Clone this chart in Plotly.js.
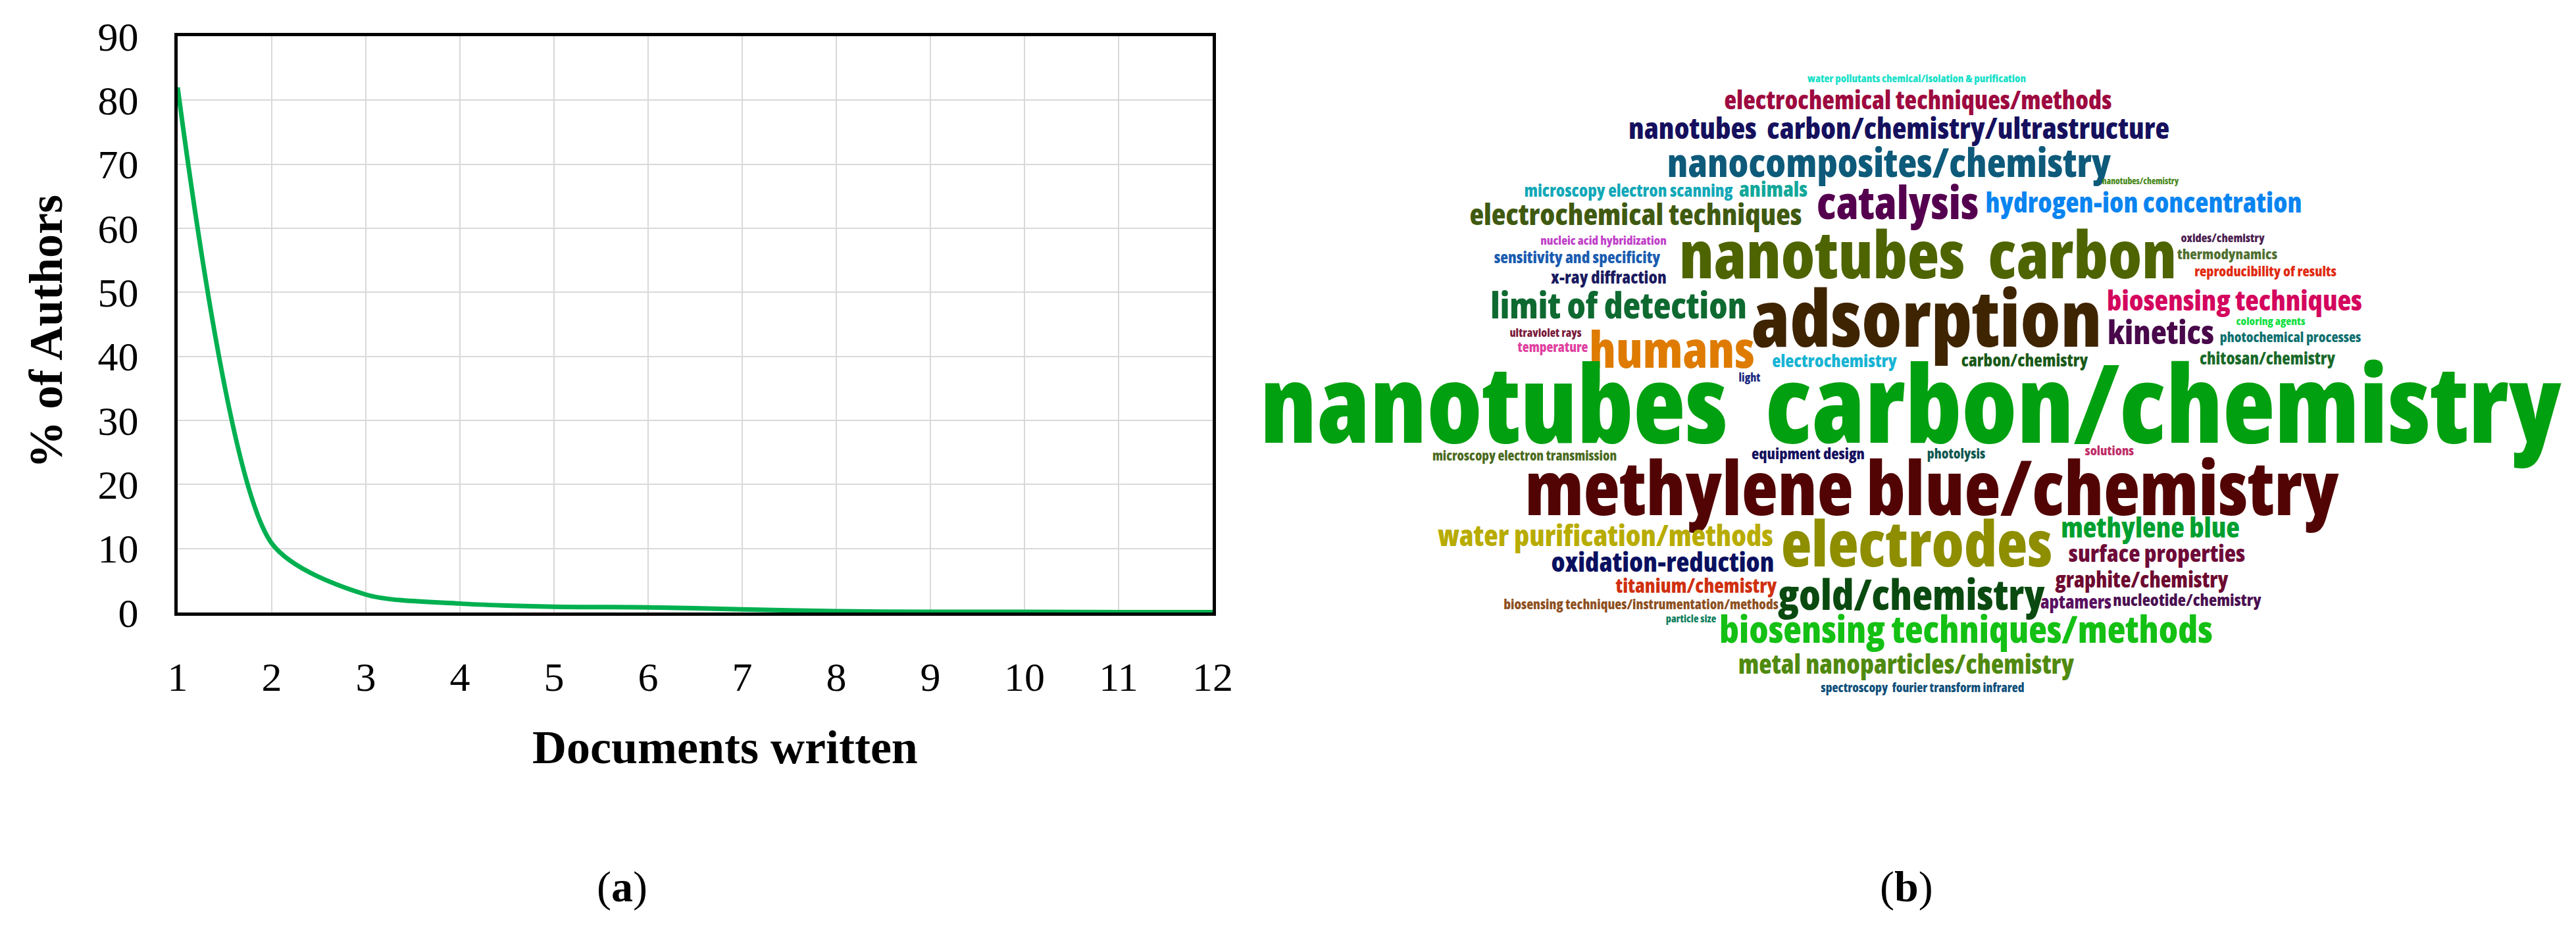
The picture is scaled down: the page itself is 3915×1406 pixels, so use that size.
<!DOCTYPE html>
<html>
<head>
<meta charset="utf-8">
<script src="https://cdn.plot.ly/plotly-3.0.1.min.js"></script>
<style>
html,body{margin:0;padding:0;background:#fff;}
#chart{width:3915px;height:1406px;}
#chart .textpoint text{font-stretch:75% !important;}
</style>
</head>
<body>
<div id="chart"></div>
<script>
// ---- (a) authors productivity ----
const docsWritten = [1, 2, 3, 4, 5, 6, 7, 8, 9, 10, 11, 12];
const pctAuthors  = [82, 10.8, 2.8, 1.4, 0.9, 0.8, 0.5, 0.2, 0.1, 0.1, 0.05, 0.05];
const xTickLabels = ['1','2','3','4','5','6','7','8','9','10','11','12'];
const yTickVals   = [0, 10, 20, 30, 40, 50, 60, 70, 80, 90];

// ---- (b) keyword cloud ----
const words = [
  'water pollutants chemical/isolation & purification',
  'electrochemical techniques/methods',
  'nanotubes\u00a0 carbon/chemistry/ultrastructure',
  'nanocomposites/chemistry',
  'microscopy electron scanning',
  'animals',
  'catalysis',
  'hydrogen-ion concentration',
  'nanotubes/chemistry',
  'electrochemical techniques',
  'nucleic acid hybridization',
  'sensitivity and specificity',
  'x-ray diffraction',
  'nanotubes\u00a0 carbon',
  'oxides/chemistry',
  'thermodynamics',
  'reproducibility of results',
  'limit of detection',
  'adsorption',
  'biosensing techniques',
  'kinetics',
  'coloring agents',
  'photochemical processes',
  'ultraviolet rays',
  'temperature',
  'humans',
  'electrochemistry',
  'carbon/chemistry',
  'chitosan/chemistry',
  'light',
  'nanotubes\u00a0 carbon/chemistry',
  'microscopy electron transmission',
  'equipment design',
  'photolysis',
  'solutions',
  'methylene blue/chemistry',
  'water purification/methods',
  'electrodes',
  'methylene blue',
  'surface properties',
  'oxidation-reduction',
  'graphite/chemistry',
  'titanium/chemistry',
  'gold/chemistry',
  'biosensing techniques/instrumentation/methods',
  'aptamers',
  'nucleotide/chemistry',
  'particle size',
  'biosensing techniques/methods',
  'metal nanoparticles/chemistry',
  'spectroscopy\u00a0 fourier transform infrared'
];
// relative weight of each keyword (rendered as font size)
const wordWeight = [
  15.5, 37, 43, 57.5, 25, 31, 66, 40, 12.6, 43,
  17.5, 23.3, 25, 96, 17, 21, 20.4, 53, 114, 41,
  48, 16, 20, 16.6, 19.6, 74, 26, 25, 24.6, 16.5,
  157, 19.5, 22.5, 20, 19, 109, 42.6, 92, 41, 34.4,
  39.4, 31.4, 29, 61.5, 19.8, 26.6, 24.3, 15, 55, 38.5,
  18
];
// layout of the cloud (centre of each word, in figure pixels)
const wordX = [
  2913, 2915, 2886, 2871, 2475, 2695, 2884, 3258, 3253, 2486,
  2437, 2397, 2445, 2930, 3378, 3385, 3443, 2460, 2928, 3396,
  3284, 3451, 3481, 2349, 2360, 2541, 2788, 3077, 3446, 2659,
  2904, 2317, 2748, 2973, 3206, 2936, 2440, 2913, 3268, 3278,
  2527, 3255, 2578, 2905, 2494, 3155, 3324, 2570, 2988, 2897,
  2922
];
const wordY = [
  121, 156, 200, 254, 292, 291, 316, 313, 277, 331,
  367, 394, 424, 398, 364, 389, 415, 470, 497, 461,
  511, 490, 515, 508, 530, 540, 551, 550, 548, 576,
  632, 695, 692, 692, 687, 755, 819, 837, 806, 845,
  859, 885, 893, 911, 921, 918, 915, 942, 963, 1014,
  1047
];
const wordColor = [
  '#19e0c8', '#9e0a40', '#15105e', '#0d5a7a', '#12a8b8', '#12a89a', '#55004f', '#0a84f0', '#4a8a20', '#405a10',
  '#c040c8', '#1a5cb0', '#1a1a60', '#4d6400', '#4a2050', '#507030', '#e02a10', '#0e6a30', '#3e2400', '#d4065e',
  '#48084a', '#10e040', '#107070', '#7a1a3a', '#e040a0', '#de7b00', '#18b4d4', '#1a5a1a', '#1a6a2a', '#1a2a80',
  '#00a010', '#4a6a20', '#14105e', '#105850', '#c0306a', '#520404', '#b8ac00', '#8e8e00', '#00a030', '#6e0a38',
  '#0a1060', '#6e0a30', '#d03010', '#0a4a10', '#8e5020', '#5a1060', '#4a1050', '#108060', '#14c014', '#508a10',
  '#10507a'
];

const W = 3915, H = 1406;
const FONT_SCALE = 1.04;
const serif = '"Liberation Serif", "Times New Roman", serif';
const cloudFont = '"Open Sans", Roboto, sans-serif';

const lineTrace = {
  x: docsWritten, y: pctAuthors, xaxis: 'x', yaxis: 'y',
  type: 'scatter', mode: 'lines',
  line: {color: '#00b050', width: 7, shape: 'spline', smoothing: 0.75},
  hoverinfo: 'skip', showlegend: false
};

const cloudTrace = {
  x: wordX, y: wordY, xaxis: 'x2', yaxis: 'y2',
  type: 'scatter', mode: 'text', text: words,
  textposition: 'middle center',
  textfont: {family: cloudFont, size: wordWeight.map(w => w * FONT_SCALE), color: wordColor, weight: 800},
  cliponaxis: false, hoverinfo: 'skip', showlegend: false
};

const axisCommon = {
  showgrid: true, gridcolor: '#d9d9d9', gridwidth: 2,
  showline: true, linecolor: '#000', linewidth: 5, mirror: true,
  zeroline: false, ticks: '', fixedrange: true,
  tickfont: {family: serif, size: 62, color: '#000'}
};

const layout = {
  width: W, height: H,
  margin: {l: 0, r: 0, t: 0, b: 0},
  paper_bgcolor: '#ffffff', plot_bgcolor: 'rgba(0,0,0,0)',
  showlegend: false, hovermode: false,
  xaxis: Object.assign({}, axisCommon, {
    domain: [270 / W, 1843 / W], range: [1, 12], anchor: 'y',
    tickmode: 'array', tickvals: docsWritten, ticktext: xTickLabels,
    ticklabelstandoff: 40
  }),
  yaxis: Object.assign({}, axisCommon, {
    domain: [1 - 931 / H, 1 - 55 / H], range: [0, 90], anchor: 'x',
    tickmode: 'array', tickvals: yTickVals, ticklabelstandoff: 42
  }),
  xaxis2: {domain: [0, 1], range: [0, W], anchor: 'y2', visible: false, fixedrange: true},
  yaxis2: {domain: [0, 1], range: [H, 0], anchor: 'x2', visible: false, fixedrange: true},
  annotations: [
    {text: '<b>Documents written</b>', xref: 'paper', yref: 'paper',
     x: 1102 / W, y: 1 - 1136 / H, xanchor: 'center', yanchor: 'middle', showarrow: false,
     font: {family: serif, size: 72, color: '#000'}},
    {text: '<b>% of Authors</b>', xref: 'paper', yref: 'paper', textangle: -90,
     x: 70 / W, y: 1 - 504 / H, xanchor: 'center', yanchor: 'middle', showarrow: false,
     font: {family: serif, size: 72, color: '#000'}},
    {text: '(<b>a</b>)', xref: 'paper', yref: 'paper',
     x: 945 / W, y: 1 - 1348 / H, xanchor: 'center', yanchor: 'middle', showarrow: false,
     font: {family: serif, size: 66, color: '#000'}},
    {text: '(<b>b</b>)', xref: 'paper', yref: 'paper',
     x: 2897 / W, y: 1 - 1348 / H, xanchor: 'center', yanchor: 'middle', showarrow: false,
     font: {family: serif, size: 66, color: '#000'}}
  ]
};

Plotly.newPlot('chart', [lineTrace, cloudTrace], layout, {staticPlot: true, displayModeBar: false});
</script>
</body>
</html>
